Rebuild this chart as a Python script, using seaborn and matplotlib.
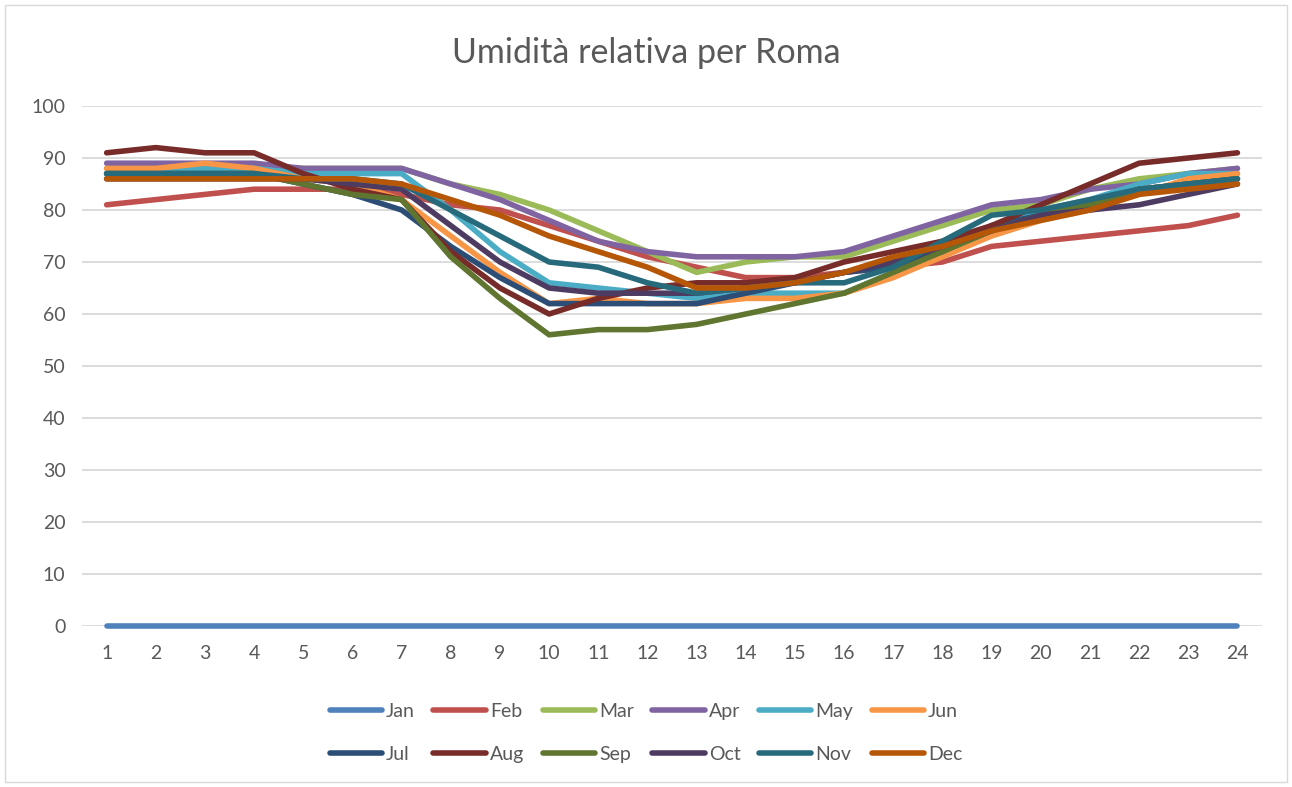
import numpy as np
import pandas as pd
import matplotlib
matplotlib.use("Agg")
import matplotlib.pyplot as plt
import seaborn as sns

# Ore del giorno
ore = list(range(1, 25))
mesi = ["Jan", "Feb", "Mar", "Apr", "May", "Jun", "Jul", "Aug", "Sep", "Oct", "Nov", "Dec"]

# Umidità relativa (%) per mese
jan = [0] * 24
feb = [81, 82, 83, 84, 84, 84, 83, 81, 80, 77, 74, 71, 69, 67, 67, 68, 69, 70, 73, 74, 75, 76, 77, 79]
mar = [88, 88, 88, 88, 88, 88, 88, 85, 83, 80, 76, 72, 68, 70, 71, 71, 74, 77, 80, 81, 84, 86, 87, 88]
apr = [89, 89, 89, 89, 88, 88, 88, 85, 82, 78, 74, 72, 71, 71, 71, 72, 75, 78, 81, 82, 84, 85, 87, 88]
may = [87, 87, 88, 88, 87, 87, 87, 80, 72, 66, 65, 64, 63, 64, 64, 64, 68, 72, 77, 80, 82, 85, 87, 87]
jun = [88, 88, 89, 88, 86, 85, 82, 75, 68, 62, 63, 62, 62, 63, 63, 64, 67, 71, 75, 78, 80, 83, 86, 87]
jul = [87, 87, 87, 87, 85, 83, 80, 73, 67, 62, 62, 62, 62, 64, 66, 68, 69, 72, 77, 79, 81, 84, 85, 86]
aug = [91, 92, 91, 91, 87, 84, 82, 72, 65, 60, 63, 65, 66, 66, 67, 70, 72, 74, 77, 81, 85, 89, 90, 91]
sep = [87, 87, 87, 87, 85, 83, 82, 71, 63, 56, 57, 57, 58, 60, 62, 64, 68, 72, 76, 79, 81, 84, 85, 86]
oct_ = [86, 86, 86, 86, 86, 85, 84, 77, 70, 65, 64, 64, 64, 65, 66, 68, 70, 73, 76, 79, 80, 81, 83, 85]
nov = [87, 87, 87, 87, 86, 86, 85, 80, 75, 70, 69, 66, 64, 65, 66, 66, 69, 74, 79, 80, 82, 84, 85, 86]
dec = [86, 86, 86, 86, 86, 86, 85, 82, 79, 75, 72, 69, 65, 65, 66, 68, 71, 73, 76, 78, 80, 83, 84, 85]

colori = ["#4F81BD", "#C0504D", "#9BBB59", "#8064A2", "#4BACC6", "#F79646",
          "#2C4D75", "#772C2A", "#5F7530", "#4D3B62", "#276A7C", "#B65708"]

valori = [jan, feb, mar, apr, may, jun, jul, aug, sep, oct_, nov, dec]
df = pd.DataFrame({
    "Ora": ore * 12,
    "Mese": [m for m in mesi for _ in ore],
    "Umidita": [v for serie in valori for v in serie],
})

sns.set_style("white")
plt.rcParams["font.family"] = ["Lato", "DejaVu Sans"]
grigio = "#595959"
lw = 4.0

fig = plt.figure(figsize=(12.92, 7.87), dpi=100)
ax = fig.add_axes([0.0635, 0.2046, 0.9133, 0.6607])

sns.lineplot(data=df, x="Ora", y="Umidita", hue="Mese", hue_order=mesi,
             palette=colori, linewidth=lw, ax=ax, legend=False,
             solid_capstyle="round")
for line in ax.lines:
    line.set_clip_on(False)

ax.set_xlim(0.5, 24.5)
ax.set_ylim(0, 100)
ax.set_xticks(ore)
ax.set_yticks(range(0, 101, 10))
ax.yaxis.grid(True, color="#D9D9D9", linewidth=1.3)
ax.set_axisbelow(True)
for s in ax.spines.values():
    s.set_visible(False)
ax.tick_params(axis="both", length=0, labelsize=14, labelcolor=grigio)
ax.tick_params(axis="x", pad=14)
ax.tick_params(axis="y", pad=12)
ax.set_xlabel("")
ax.set_ylabel("")

fig.text(0.5, 0.933, "Umidità relativa per Roma", ha="center", va="center",
         fontsize=24.5, color=grigio)

# Legenda in due righe (ordine per riga)
handles = [plt.Line2D([0], [0], color=c, linewidth=lw, solid_capstyle="round") for c in colori]
ordine = [i + 6 * r for i in range(6) for r in range(2)]
fig.legend([handles[i] for i in ordine], [mesi[i] for i in ordine],
           loc="center", bbox_to_anchor=(0.5, 0.069), ncol=6,
           frameon=False, fontsize=14, labelcolor=grigio, handlelength=2.7,
           handletextpad=0.2, columnspacing=0.95, labelspacing=1.35)

# Bordo del grafico
fig.patches.append(plt.Rectangle((0.004, 0.006), 0.992, 0.988, transform=fig.transFigure,
                                 fill=False, edgecolor="#D9D9D9", linewidth=1))

fig.savefig("out.png", dpi=100)
